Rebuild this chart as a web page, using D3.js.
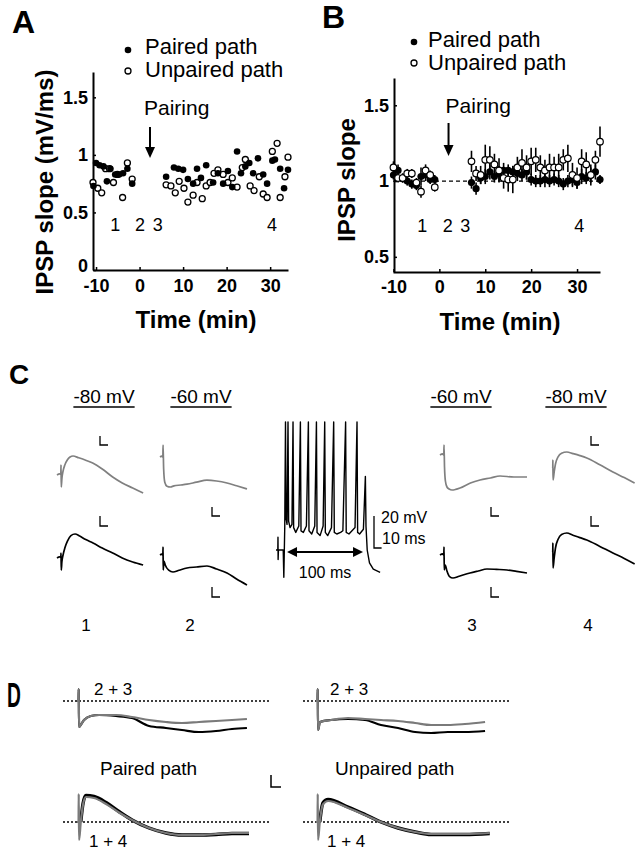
<!DOCTYPE html>
<html><head><meta charset="utf-8">
<script src="https://cdn.jsdelivr.net/npm/d3@7"></script>
<style>body{margin:0;background:#fff}svg{display:block}text{font-family:"Liberation Sans",Arial,Helvetica,sans-serif;fill:#000}</style>
</head><body><div id="chart"></div>
<script>
// ---------------- DATA ----------------
// Panel A: IPSP slope (mV/ms) vs time (min)
const aPairedTime  = [-10.6,-10.0,-9.2,-8.3,-7.5,-6.7,-5.6,-4.7,-3.8,-2.8,-1.7, 6.1,7.9,8.9,10.0,11.1,12.3,13.2,14.1,15.3,16.9,18.0,19.2,20.3,21.3,22.4,23.3,24.3,25.2,26.1,27.2,28.4,29.3,30.5,31.1,32.3,33.2,34.1];
const aPairedSlope = [0.73,0.93,0.91,0.90,0.77,0.88,0.83,0.83,0.84,0.88,0.75, 0.81,0.89,0.88,0.87,0.79,0.75,0.88,0.80,0.91,0.76,0.84,0.75,0.86,0.72,1.03,0.84,0.90,0.93,0.84,0.97,0.83,0.75,0.95,0.96,0.88,0.71,0.87];
const aUnpairedTime  = [-10.7,-9.6,-8.7,-7.8,-6.9,-6.0,-5.1,-3.9,-2.8,-1.7, 6.1,7.2,8.2,9.1,10.2,11.1,12.3,13.2,14.4,15.3,16.2,17.1,18.0,19.2,20.3,21.3,22.4,23.6,24.3,25.4,26.3,27.5,28.4,29.3,30.5,31.6,32.3,33.4,34.1];
const aUnpairedSlope = [0.76,0.71,0.67,0.88,0.88,0.76,0.83,0.63,0.93,0.79, 0.74,0.73,0.67,0.77,0.71,0.59,0.65,0.76,0.62,0.73,0.76,0.84,0.87,0.83,0.76,0.80,0.72,0.89,0.96,0.73,0.69,0.81,0.66,0.63,1.03,1.10,0.63,0.81,0.98];
const aYTicks = [0, 0.5, 1, 1.5];
const aXTicks = [-10, 0, 10, 20, 30];
const aSampleLabels = ["1","2","3","4"];
const aSampleTimes  = [-5.6, 0.1, 4.2, 30.4];

// Panel B: normalized IPSP slope, mean ± SEM
const bTime = [-10,-9,-8,-7,-6,-5,-4,-3,-2,-1, 7,8,9,10,11,12,13,14,15,16,17,18,19,20,21,22,23,24,25,26,27,28,29,30,31,32,33,34,35];
const bPairedMean = [1.04,1.07,1.02,1.00,0.98,0.97,1.03,1.04,1.01,1.01, 0.99,0.95,1.02,1.03,1.06,1.03,1.05,1.07,1.07,1.06,1.05,1.04,1.06,1.01,1.00,1.00,1.01,1.00,1.01,1.00,0.98,1.00,1.01,0.99,1.03,1.02,1.04,1.06,1.01];
const bPairedSem  = [0.03,0.04,0.03,0.03,0.03,0.03,0.06,0.04,0.03,0.03, 0.04,0.04,0.04,0.05,0.05,0.04,0.05,0.05,0.04,0.04,0.05,0.04,0.05,0.04,0.04,0.04,0.05,0.04,0.04,0.04,0.04,0.04,0.04,0.04,0.05,0.04,0.05,0.05,0.03];
const bUnpairedMean = [1.09,1.02,1.02,1.05,1.05,0.99,0.93,1.07,1.04,0.96, 1.13,1.05,1.04,1.14,1.14,1.11,1.07,1.02,1.01,1.01,1.09,1.12,1.09,1.13,1.14,1.09,1.07,1.09,1.09,1.09,1.14,1.15,1.04,1.02,1.13,1.11,1.04,1.14,1.26];
const bUnpairedSem  = [0.04,0.03,0.03,0.03,0.03,0.03,0.04,0.04,0.03,0.03, 0.07,0.05,0.06,0.10,0.09,0.07,0.08,0.07,0.08,0.09,0.07,0.09,0.08,0.09,0.08,0.08,0.07,0.09,0.07,0.09,0.07,0.09,0.08,0.07,0.08,0.08,0.07,0.06,0.10];
const bYTicks = [0.5, 1, 1.5];
const bXTicks = [-10, 0, 10, 20, 30];
const bSampleLabels = ["1","2","3","4"];
const bSampleTimes  = [-3.7, 1.85, 5.65, 30.5];
const pairingTimeA = 2.4, pairingTimeB = 2.0;

// Panel C: example traces [ms, mV relative to baseline]
const c1Grey  = [[0,0],[3,0.3],[4.4,0.2],[4.6,2.5],[4.9,-3],[5.6,-1],[7,1],[9,2.5],[12,3.8],[15,4.5],[18.4,4.75],[25,4.3],[33,3.7],[41,3],[52,1.5],[64,-0.5],[75,-2],[87,-3.25],[99,-4.5]];
const c1Black = [[0,0],[3,0.3],[4.4,0.2],[4.6,1.25],[4.9,-3],[5.6,-1],[7,0.8],[9,2.5],[12,4.2],[16,5.6],[20.7,6],[26,5.5],[33,4.6],[41.4,3.75],[52,2.5],[64,1.25],[75,0],[87,-1],[99,-1.75]];
const c2Grey  = [[0,0],[2,0.2],[3.3,0],[3.5,3],[4.2,-3],[5.5,-6.3],[8,-7.3],[12,-7.5],[16,-7.2],[24,-7],[31,-6.8],[42,-6.3],[54,-5.8],[65,-6],[77,-6.5],[88,-7.2],[100,-8]];
const c2Black = [[0,0],[2,0.2],[3.3,0],[3.5,2],[3.7,-3.75],[4.5,-1.5],[6,-2.5],[10,-3.8],[14.9,-4.25],[22,-3.8],[31,-3.25],[42,-3],[54,-2.75],[65,-3.5],[77,-4.5],[88,-6],[100,-7.5]];
const c3Grey  = [[0,0],[3,0.3],[4.4,0],[4.6,2.5],[5.2,-3],[6.2,-6.5],[8,-8],[10.5,-8.5],[13.8,-8.75],[18,-8.6],[23,-8.25],[35,-7],[46,-6.25],[58,-5.75],[69,-5.25],[85,-5.5],[100,-5.5]];
const c3Black = [[0,0],[3,0.3],[4.4,0],[4.6,2],[4.9,-3.75],[6,-2.5],[8,-4],[11,-5.4],[14.9,-5.75],[22,-5.3],[34.5,-4.5],[44,-4],[54,-3.5],[65,-3.6],[77,-3.75],[88,-4.1],[100,-4.5]];
const c4Grey  = [[0,0],[0.9,0.1],[1,2],[1.2,-3],[2.5,-1],[4,1],[7,2.8],[11,3.7],[17,4],[24,3.6],[32,3.1],[40,2.5],[55,0.8],[70,-1],[83,-2.4],[95,-3.75]];
const c4Black = [[0,0],[0.9,0.1],[1,2.25],[1.2,-4],[2.5,-1.5],[4,1],[7,3.2],[11,4.4],[17,4.75],[24,4.2],[32,3.6],[40,3],[55,1.4],[70,-0.25],[83,-1.6],[95,-3]];
const cHolding = ["-80 mV","-60 mV","-60 mV","-80 mV"];
const cNumbers = ["1","2","3","4"];
// Pairing spike train [ms, mV]
const spikeTrain = [[0,-60],[2.4,-60],[2.6,-52],[2.8,-66],[3.2,-60],[9.5,-60],[10.3,-77],[11.5,-46],[12.5,20],[13.2,-40],[14.5,-44],[15.8,20],[16.6,-42],[18.5,-46],[21,-44],[22.4,20],[23.2,-46],[26,-49],[30,-45],[32.1,20],[32.9,-48],[36,-49],[40,-45],[42.6,20],[43.4,-48],[47,-50],[51,-45],[53.2,20],[54,-49],[58,-51],[62,-45],[64.1,20],[64.9,-49],[68,-51],[73,-46],[75.9,20],[76.7,-49],[80,-50],[85,-49],[88,-48],[91.6,20],[92.4,-49],[96,-50],[100,-48],[104,-46],[106.6,20],[107.4,-49],[110,-50],[115,-47],[117.6,-14],[118.4,-45],[120,-60],[123,-68],[128,-72],[137,-74]];
const trainStart = 14.5, trainEnd = 114.5;

// Panel D: superimposed traces [ms, mV]
const dPairedTopGrey  = [[0,0],[0.9,0],[1,2.4],[1.2,-5.2],[2.5,-4.6],[4.1,-3.8],[8,-3],[12.8,-2.8],[22.7,-2.8],[32,-3.2],[41.9,-3.8],[51.7,-4.2],[61,-4.4],[70.9,-4.2],[80.8,-4],[90.1,-3.8],[98.8,-3.6]];
const dPairedTopBlack = [[0,0],[0.9,0],[1,2.4],[1.2,-5.2],[2.5,-4.6],[4.1,-3.8],[8,-3],[12.8,-2.8],[22.7,-3],[32,-3.4],[41.9,-5],[51.7,-5.4],[61,-5.8],[70.9,-6.2],[80.8,-6],[90.1,-5.6],[98.8,-5.4]];
const dPairedBotGrey  = [[0,0],[0.9,0],[1,5.6],[1.2,-3.6],[2.2,0],[3.5,3.5],[5.2,5.0],[9.9,4.8],[16.9,3.6],[24.4,1.9],[32,0.4],[41.9,-1.2],[51.7,-2.2],[61,-2.6],[70.9,-2.6],[80.8,-2.4],[90.1,-2.2],[100,-2.2]];
const dPairedBotBlack = [[2.2,0],[3.5,3.7],[5.2,5.3],[9.9,5.1],[16.9,3.9],[24.4,2.1],[32,0.4],[41.9,-1.2],[51.7,-2.2],[61,-2.6],[70.9,-2.6],[80.8,-2.5],[90.1,-2.3],[100,-2.3]];
const dUnpairedTopGrey  = [[0,0],[0.9,0],[1,2.4],[1.2,-5.8],[2.3,-4.2],[8.7,-3.8],[18.6,-3.4],[28.5,-3.6],[37.8,-3.8],[47.7,-4],[57.6,-4.4],[66.9,-4.8],[76.7,-4.8],[86.6,-4.6],[98.3,-4.2]];
const dUnpairedTopBlack = [[0,0],[0.9,0],[1,2.4],[1.2,-5.8],[2.3,-4.2],[8.7,-3.8],[18.6,-3.6],[28.5,-3.8],[37.8,-4.8],[47.7,-5.4],[57.6,-6.2],[66.9,-6.4],[76.7,-6.2],[86.6,-6.2],[98.3,-6]];
const dUnpairedBotGrey  = [[0,0],[0.9,0],[1,5.6],[1.2,-3.6],[2.2,0],[4,3.5],[7,4.2],[18.6,2.8],[28.5,1.4],[37.8,0],[47.7,-1.2],[57.6,-2],[66.9,-2.4],[86.6,-2.4],[101,-2.2]];
const dUnpairedBotBlack = [[2.2,0],[4,3.8],[7,4.5],[18.6,3.0],[28.5,1.5],[37.8,0],[47.7,-1.2],[57.6,-2],[66.9,-2.5],[86.6,-2.5],[101,-2.3]];

// ---------------- DRAW ----------------
const svg = d3.select("#chart").append("svg").attr("width",640).attr("height",852);

function txt(x,y,s,size,opts={}){
  const t = svg.append("text").attr("x",x).attr("y",y).text(s)
    .attr("font-size",size).attr("font-weight",opts.bold?"bold":"normal")
    .attr("text-anchor",opts.anchor||"start");
  if(opts.transform) t.attr("transform",opts.transform).attr("x",0).attr("y",0);
  return t;
}
function styleAxis(g){
  g.select(".domain").attr("stroke","#000").attr("stroke-width",2);
  g.selectAll(".tick line").attr("stroke","#000").attr("stroke-width",1.5);
  g.selectAll(".tick text").attr("font-size",18).attr("font-weight","bold")
    .attr("font-family",'"Liberation Sans",Arial,sans-serif').attr("fill","#000");
}
function arrowDown(x,y1,y2){
  svg.append("line").attr("x1",x).attr("x2",x).attr("y1",y1).attr("y2",y2-8).attr("stroke","#000").attr("stroke-width",2);
  svg.append("path").attr("d",`M${x-5},${y2-11}L${x+5},${y2-11}L${x},${y2}Z`).attr("fill","#000");
}

// ---- Panel A ----
const xA = d3.scaleLinear().domain([-10.7, 34.1]).range([93, 288]);
const yA = d3.scaleLinear().domain([0, 1.72]).range([270, 72]);
const gAy = svg.append("g").attr("transform","translate(93,0)")
  .call(d3.axisLeft(yA).tickValues(aYTicks).tickFormat(d=>String(d)).tickSizeInner(-3).tickSizeOuter(0).tickPadding(5));
styleAxis(gAy);
gAy.selectAll(".tick text").filter(d=>d===0).attr("dy","0.1em");
styleAxis(svg.append("g").attr("transform","translate(0,270)")
  .call(d3.axisBottom(xA).tickValues(aXTicks).tickFormat(d=>String(d)).tickSizeInner(-3).tickSizeOuter(0).tickPadding(9)));
txt(12,33,"A",32,{bold:true});
txt(196,328,"Time (min)",24,{bold:true,anchor:"middle"});
txt(0,0,"IPSP slope (mV/ms)",24,{bold:true,anchor:"middle",transform:"translate(53,182) rotate(-90)"});
svg.append("circle").attr("cx",128).attr("cy",50).attr("r",3.3).attr("fill","#000");
txt(145,54,"Paired path",22);
svg.append("circle").attr("cx",128).attr("cy",71).attr("r",3).attr("fill","#fff").attr("stroke","#000").attr("stroke-width",1.3);
txt(145,77,"Unpaired path",22);
txt(xA(pairingTimeA)-6,115,"Pairing",21);
arrowDown(xA(pairingTimeA),127,158);
aSampleLabels.forEach((s,i)=>txt(xA(aSampleTimes[i]),231,s,18,{anchor:"middle"}));
svg.append("g").selectAll("circle").data(d3.zip(aUnpairedTime,aUnpairedSlope)).join("circle")
  .attr("cx",d=>xA(d[0])).attr("cy",d=>yA(d[1])).attr("r",3).attr("fill","#fff").attr("stroke","#000").attr("stroke-width",1.3);
svg.append("g").selectAll("circle").data(d3.zip(aPairedTime,aPairedSlope)).join("circle")
  .attr("cx",d=>xA(d[0])).attr("cy",d=>yA(d[1])).attr("r",3.3).attr("fill","#000");

// ---- Panel B ----
const xB = d3.scaleLinear().domain([-10.1, 35]).range([393, 600]);
const yB = d3.scaleLinear().domain([0.4, 1.68]).range([272, 78]);
styleAxis(svg.append("g").attr("transform","translate(394,0)")
  .call(d3.axisLeft(yB).tickValues(bYTicks).tickFormat(d=>String(d)).tickSizeInner(-3).tickSizeOuter(0).tickPadding(5)));
styleAxis(svg.append("g").attr("transform","translate(0,272)")
  .call(d3.axisBottom(xB).tickValues(bXTicks).tickFormat(d=>String(d)).tickSizeInner(-3).tickSizeOuter(0).tickPadding(8)));
txt(322,28,"B",32,{bold:true});
txt(500,330,"Time (min)",24,{bold:true,anchor:"middle"});
txt(0,0,"IPSP slope",24,{bold:true,anchor:"middle",transform:"translate(355,180) rotate(-90)"});
svg.append("circle").attr("cx",414).attr("cy",42).attr("r",3.3).attr("fill","#000");
txt(428,47,"Paired path",22);
svg.append("circle").attr("cx",414).attr("cy",63).attr("r",3).attr("fill","#fff").attr("stroke","#000").attr("stroke-width",1.3);
txt(428,70,"Unpaired path",22);
txt(xB(pairingTimeB)-3,113,"Pairing",21);
arrowDown(xB(pairingTimeB),123,156);
bSampleLabels.forEach((s,i)=>txt(xB(bSampleTimes[i]),232,s,18,{anchor:"middle"}));
svg.append("line").attr("x1",xB.range()[0]).attr("x2",xB.range()[1]).attr("y1",yB(1)).attr("y2",yB(1))
  .attr("stroke","#000").attr("stroke-width",1.3).attr("stroke-dasharray","4,3");
const bRowsU = bTime.map((t,i)=>({t,m:bUnpairedMean[i],s:bUnpairedSem[i]}));
const bRowsP = bTime.map((t,i)=>({t,m:bPairedMean[i],s:bPairedSem[i]}));
[bRowsU,bRowsP].forEach(rows=>{
  svg.append("g").selectAll("line").data(rows).join("line")
    .attr("x1",d=>xB(d.t)).attr("x2",d=>xB(d.t)).attr("y1",d=>yB(d.m-d.s)).attr("y2",d=>yB(d.m+d.s))
    .attr("stroke","#000").attr("stroke-width",1.6);
});
svg.append("g").selectAll("circle").data(bRowsP).join("circle")
  .attr("cx",d=>xB(d.t)).attr("cy",d=>yB(d.m)).attr("r",3.6).attr("fill","#000");
svg.append("g").selectAll("circle").data(bRowsU).join("circle")
  .attr("cx",d=>xB(d.t)).attr("cy",d=>yB(d.m)).attr("r",3.3).attr("fill","#fff").attr("stroke","#000").attr("stroke-width",1.2);

// ---- Panel C ----
txt(9,384,"C",28,{bold:true});
function drawTrace(data,x0,y0,pxMs,pxMv,color,width,curve){
  const x = d3.scaleLinear().domain([0,100]).range([x0,x0+100*pxMs]);
  const y = d3.scaleLinear().domain([0,10]).range([y0,y0-10*pxMv]);
  svg.append("path").datum(data)
    .attr("d",d3.line().x(d=>x(d[0])).y(d=>y(d[1])).curve(curve||d3.curveMonotoneX))
    .attr("fill","none").attr("stroke",color).attr("stroke-width",width).attr("stroke-linejoin","round");
}
function Lbar(x,yb,w,h,sw){
  svg.append("path").attr("d",`M${x},${yb-h}V${yb}H${x+w}`).attr("fill","none").attr("stroke","#000").attr("stroke-width",sw||1.3);
}
const GREY="#808080";
drawTrace(c1Grey,57,475,0.87,4,GREY,1.7);
drawTrace(c1Black,57,558,0.87,4,"#000",1.7);
drawTrace(c2Grey,160,457,0.87,4,GREY,1.7);
drawTrace(c2Black,160,555,0.87,4,"#000",1.7);
drawTrace(c3Grey,440,455,0.87,4,GREY,1.7);
drawTrace(c3Black,440,555,0.87,4,"#000",1.7);
drawTrace(c4Grey,552,468,0.87,4,GREY,1.7);
drawTrace(c4Black,552,552,0.87,4,"#000",1.7);
Lbar(100,445,8,9); Lbar(100,526,8,10);
Lbar(212,516,8,9); Lbar(212,597,8,10);
Lbar(491,516,8,9); Lbar(491,597,8,10);
Lbar(591,445,8,9); Lbar(591,526,8,10);
const cLabelX = [104,201,461,576];
cHolding.forEach((s,i)=>{
  const t = txt(cLabelX[i],403,s,19,{anchor:"middle"});
  const w = t.node().getComputedTextLength();
  svg.append("line").attr("x1",cLabelX[i]-w/2).attr("x2",cLabelX[i]+w/2).attr("y1",407).attr("y2",407).attr("stroke","#000").attr("stroke-width",1.3);
});
const cNumX = [86,190,472,588];
cNumbers.forEach((s,i)=>txt(cNumX[i],631,s,17,{anchor:"middle"}));

// spike train
const xS = d3.scaleLinear().domain([0,100]).range([276,352]);
const yS = d3.scaleLinear().domain([-60,20]).range([550,422]);
svg.append("path").datum(spikeTrain)
  .attr("d",d3.line().x(d=>xS(d[0])).y(d=>yS(d[1])))
  .attr("fill","none").attr("stroke","#000").attr("stroke-width",1.4).attr("stroke-linejoin","round");
// double arrow 100 ms
const ay = 552, ax1 = xS(trainStart), ax2 = xS(trainEnd);
svg.append("line").attr("x1",ax1+8).attr("x2",ax2-8).attr("y1",ay).attr("y2",ay).attr("stroke","#000").attr("stroke-width",2);
svg.append("path").attr("d",`M${ax1},${ay}L${ax1+10},${ay-5}L${ax1+10},${ay+5}Z M${ax2},${ay}L${ax2-10},${ay-5}L${ax2-10},${ay+5}Z`).attr("fill","#000");
txt((ax1+ax2)/2,578,"100 ms",16,{anchor:"middle"});
// scale bar 20 mV / 10 ms
const sbX = 374, sbY = 548;
svg.append("path").attr("d",`M${sbX},${sbY-(yS(-60)-yS(-40))}V${sbY}H${sbX+xS(10)-xS(0)}`).attr("fill","none").attr("stroke","#000").attr("stroke-width",1.3);
txt(381,523,"20 mV",16);
txt(382,544,"10 ms",16);

// ---- Panel D ----
txt(0,0,"D",35,{bold:true,transform:"translate(7,707) scale(0.55,1)"});
function dotted(x1,x2,y){
  svg.append("line").attr("x1",x1).attr("x2",x2).attr("y1",y).attr("y2",y).attr("stroke","#000").attr("stroke-width",1.6).attr("stroke-dasharray","2,2");
}
dotted(63,270,701); dotted(63,270,822); dotted(303,510,701); dotted(303,510,822);
const DG="#7a7a7a";
drawTrace(dPairedTopBlack,77,701,1.72,5,"#000",2.2);
drawTrace(dPairedTopGrey,77,701,1.72,5,DG,2.2);
drawTrace(dPairedBotBlack,77,822,1.72,5,"#000",3.4);
drawTrace(dPairedBotGrey,77,822,1.72,5,DG,2.2);
drawTrace(dUnpairedTopBlack,316,701,1.72,5,"#000",2.2);
drawTrace(dUnpairedTopGrey,316,701,1.72,5,DG,2.2);
drawTrace(dUnpairedBotBlack,316,822,1.72,5,"#000",3.4);
drawTrace(dUnpairedBotGrey,316,822,1.72,5,DG,2.2);
txt(94,695,"2 + 3",17);
txt(330,695,"2 + 3",17);
txt(100,775,"Paired path",19);
txt(335,775,"Unpaired path",19);
txt(89,847,"1 + 4",17);
txt(327,847,"1 + 4",17);
Lbar(271,787,10,12,1.5);
</script></body></html>
